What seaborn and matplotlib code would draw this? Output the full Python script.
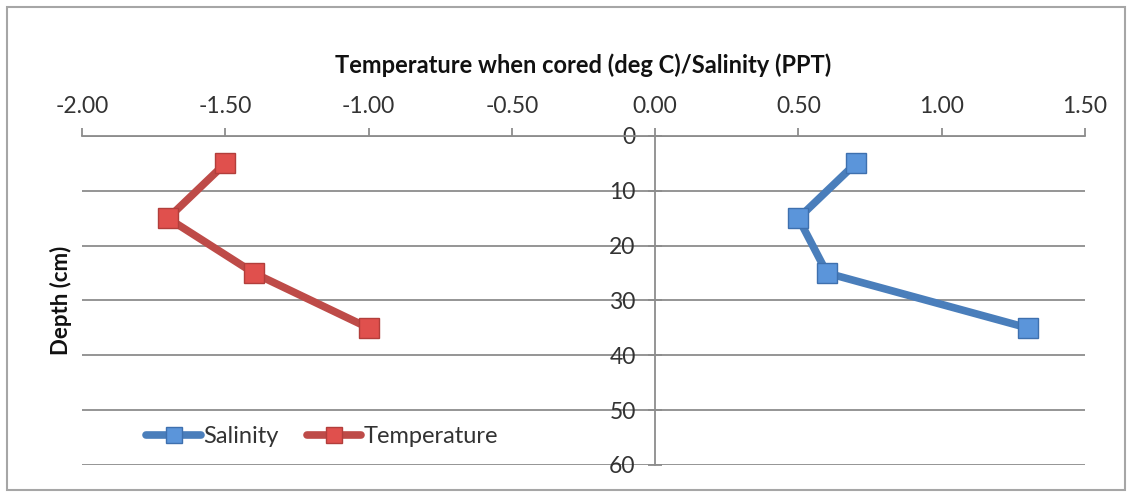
import matplotlib
matplotlib.use("Agg")
import matplotlib.pyplot as plt
import seaborn as sns
import pandas as pd
from matplotlib.patches import Rectangle

depth = [5, 15, 25, 35]
salinity = [0.7, 0.5, 0.6, 1.3]
temperature = [-1.5, -1.7, -1.4, -1.0]
x_ticks = [-2.0, -1.5, -1.0, -0.5, 0.0, 0.5, 1.0, 1.5]
y_ticks = [0, 10, 20, 30, 40, 50, 60]

sns.set_theme(style="white")
plt.rcParams['font.family'] = ['Lato', 'DejaVu Sans']

fig = plt.figure(figsize=(11.31, 4.97), dpi=100)
ax = fig.add_axes([0.0725, 0.0644, 0.8868, 0.662])

df_s = pd.DataFrame({"depth": depth, "value": salinity})
df_t = pd.DataFrame({"depth": depth, "value": temperature})

sns.lineplot(data=df_s, x="value", y="depth", orient="y", sort=False, ax=ax,
             color="#4A7EBB", linewidth=5.5, marker="s", markersize=15,
             markerfacecolor="#5B95DA", markeredgecolor="#3E70AE", markeredgewidth=1,
             label="Salinity")
sns.lineplot(data=df_t, x="value", y="depth", orient="y", sort=False, ax=ax,
             color="#BE4B48", linewidth=5.5, marker="s", markersize=15,
             markerfacecolor="#E0504D", markeredgecolor="#B23E3B", markeredgewidth=1,
             label="Temperature")

ax.set_xlim(-2.0, 1.5)
ax.set_ylim(60, 0)
ax.set_xticks(x_ticks)
ax.set_xticklabels([f"{v:.2f}" for v in x_ticks])
ax.set_yticks(y_ticks)
ax.set_yticklabels([str(v) for v in y_ticks])

ax.xaxis.tick_top()
ax.xaxis.set_label_position("top")
ax.set_xlabel("Temperature when cored (deg C)/Salinity (PPT)", fontsize=17,
              fontweight="bold", color="#111111", labelpad=16)
ax.set_ylabel("Depth (cm)", fontsize=16, fontweight="bold", color="#111111")
ax.yaxis.set_label_coords(-0.01, 0.5)

ax.grid(axis="y", color="#8C8C8C", linewidth=1.3)
ax.grid(axis="x", visible=False)

for s in ["right", "bottom"]:
    ax.spines[s].set_visible(False)
ax.spines["top"].set_color("#8C8C8C")
ax.spines["top"].set_linewidth(1.3)
ax.spines["left"].set_position(("data", 0))
ax.spines["left"].set_color("#8C8C8C")
ax.spines["left"].set_linewidth(1.3)

ax.tick_params(axis="x", which="major", top=True, bottom=False, direction="out",
               length=6, width=1.3, color="#8C8C8C", labelsize=16.5,
               labelcolor="#333333", pad=8)
ax.tick_params(axis="y", which="major", left=True, direction="inout",
               length=10, width=1.3, color="#8C8C8C", labelsize=16.5,
               labelcolor="#333333", pad=9)

leg = ax.legend(loc="center left", bbox_to_anchor=(0.043, 0.086), ncol=2,
                frameon=False, fontsize=17, handlelength=2.3, markerscale=0.75,
                columnspacing=1.2, handletextpad=0.1)
for t in leg.get_texts():
    t.set_color("#333333")

fig.patches.append(Rectangle((7 / 1131, 7 / 497), 1118 / 1131, 483 / 497,
                             transform=fig.transFigure, fill=False,
                             edgecolor="#A6A6A6", linewidth=1.5))

fig.savefig("out.png", dpi=100)
